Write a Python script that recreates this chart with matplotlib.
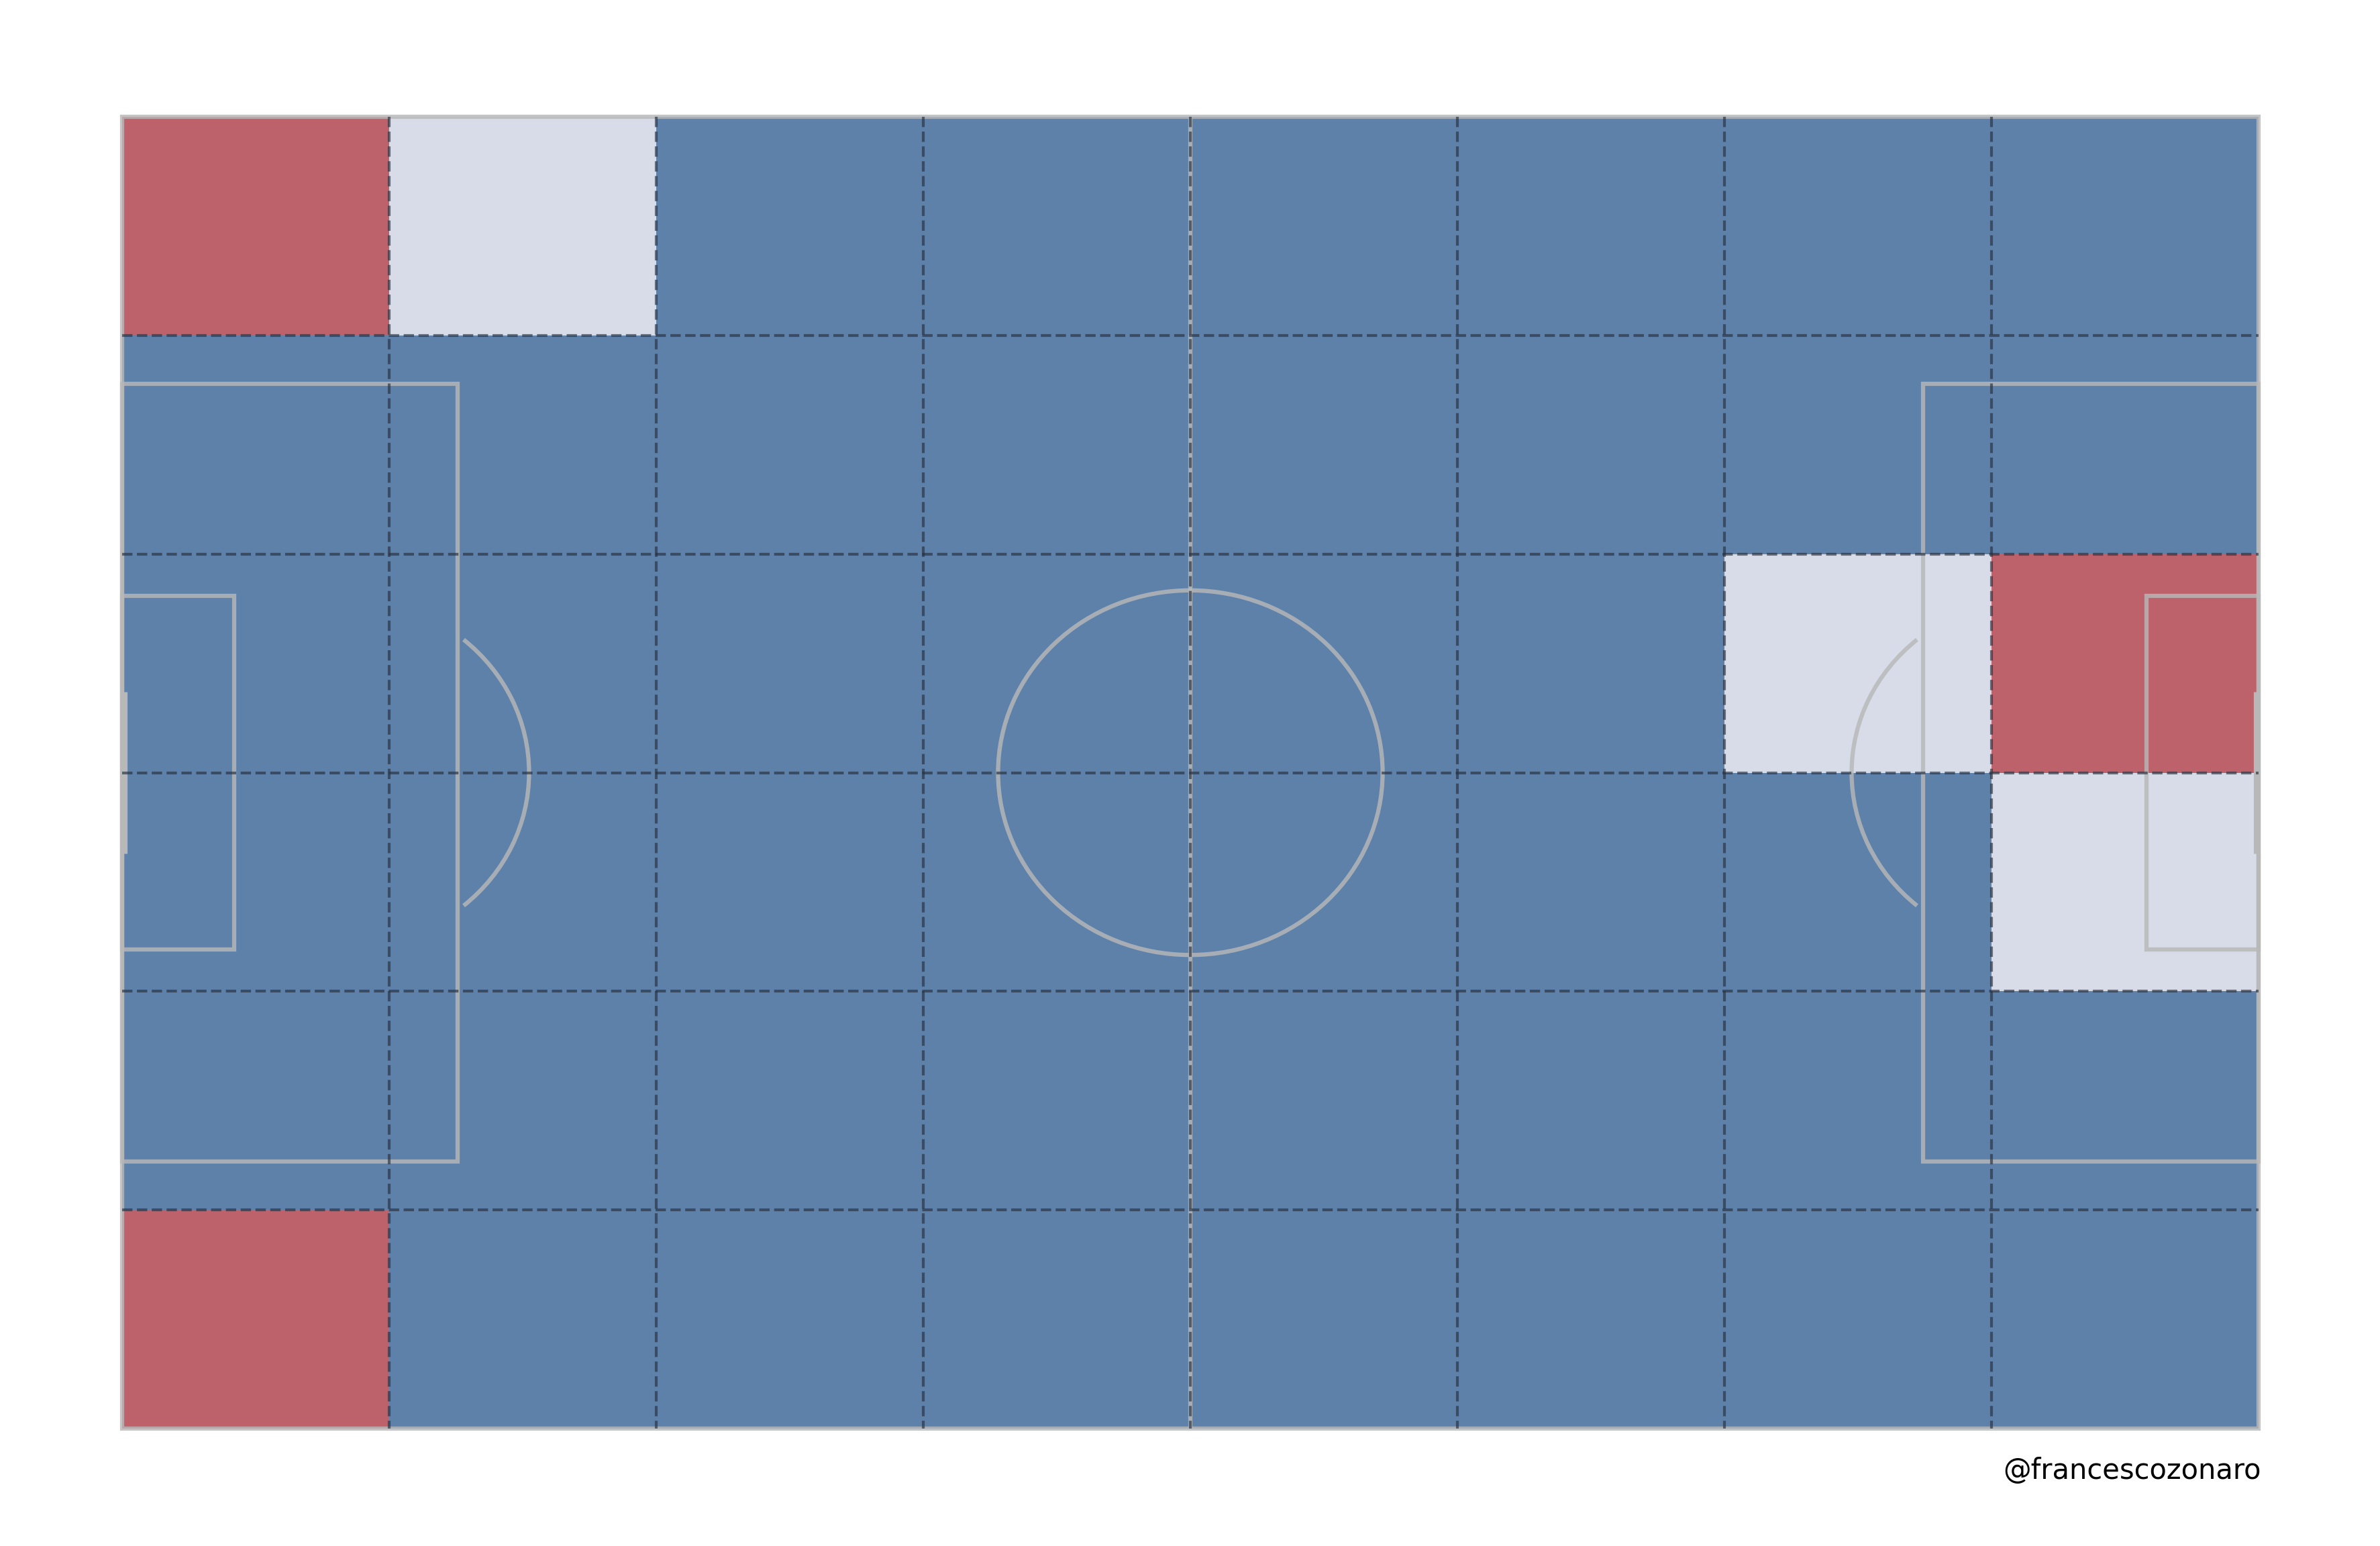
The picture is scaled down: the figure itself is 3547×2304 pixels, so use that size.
import matplotlib.pyplot as plt
import numpy as np
from matplotlib.colors import LinearSegmentedColormap
from matplotlib.patches import Rectangle, Arc, Circle

# pitch size in metres
pitch_length = 105
pitch_width = 68

# zones: 8 along the pitch, 6 across
n_cols = 8
n_rows = 6

# zone level per cell, top row first (0 = low, 1 = mid, 2 = high)
zone_row_1 = [2, 1, 0, 0, 0, 0, 0, 0]
zone_row_2 = [0, 0, 0, 0, 0, 0, 0, 0]
zone_row_3 = [0, 0, 0, 0, 0, 0, 1, 2]
zone_row_4 = [0, 0, 0, 0, 0, 0, 0, 1]
zone_row_5 = [0, 0, 0, 0, 0, 0, 0, 0]
zone_row_6 = [2, 0, 0, 0, 0, 0, 0, 0]

credit = '@francescozonaro'

zones = np.array([zone_row_1, zone_row_2, zone_row_3,
                  zone_row_4, zone_row_5, zone_row_6])

cmap = LinearSegmentedColormap.from_list('zones', ['#5e81aa', '#d7dce8', '#bd626b'])
line_col = '#b8b8b8'
grid_col = '#27303e'

fig = plt.figure(figsize=(3547 / 300, 2304 / 300), dpi=300)
ax = fig.add_axes([0.05131, 0.07595, 0.89766, 0.84853])
ax.set_xlim(0, pitch_length)
ax.set_ylim(0, pitch_width)
ax.axis('off')

# heatmap
x_edges = np.linspace(0, pitch_length, n_cols + 1)
y_edges = np.linspace(pitch_width, 0, n_rows + 1)
ax.pcolormesh(x_edges, y_edges, zones, cmap=cmap, vmin=0, vmax=2, zorder=1)

# pitch markings
lw = 1.5
kw = dict(fill=False, edgecolor=line_col, alpha=0.82, lw=lw, zorder=3, clip_on=False)
mid_y = pitch_width / 2
ax.add_patch(Rectangle((0, 0), pitch_length, pitch_width, **kw))
ax.plot([pitch_length / 2] * 2, [0, pitch_width], color=line_col, alpha=0.82, lw=lw, zorder=3)
ax.add_patch(Circle((pitch_length / 2, mid_y), 9.45, **kw))
# penalty areas and six-yard boxes
ax.add_patch(Rectangle((0, mid_y - 20.16), 16.5, 40.32, **kw))
ax.add_patch(Rectangle((pitch_length - 16.5, mid_y - 20.16), 16.5, 40.32, **kw))
ax.add_patch(Rectangle((0, mid_y - 9.16), 5.5, 18.32, **kw))
ax.add_patch(Rectangle((pitch_length - 5.5, mid_y - 9.16), 5.5, 18.32, **kw))
# arcs
ax.add_patch(Arc((11, mid_y), 18, 18, theta1=-50, theta2=50, **kw))
ax.add_patch(Arc((pitch_length - 11, mid_y), 18, 18, theta1=130, theta2=230, **kw))
# goals
for gx in [0.1, pitch_length - 0.1]:
    ax.plot([gx, gx], [mid_y - 4.2, mid_y + 4.2], color=line_col, lw=2.2,
            solid_capstyle='butt', zorder=3, clip_on=False)

# zone grid
for x in x_edges[1:-1]:
    ax.plot([x, x], [pitch_width, 0], ls='--', lw=1, color=grid_col, alpha=0.65, zorder=4)
for y in y_edges[1:-1]:
    ax.plot([0, pitch_length], [y, y], ls='--', lw=1, color=grid_col, alpha=0.65, zorder=4)

fig.text(0.9501, 0.0434, credit, ha='right', va='baseline', fontsize=10)

fig.savefig('out.png', dpi=300)
